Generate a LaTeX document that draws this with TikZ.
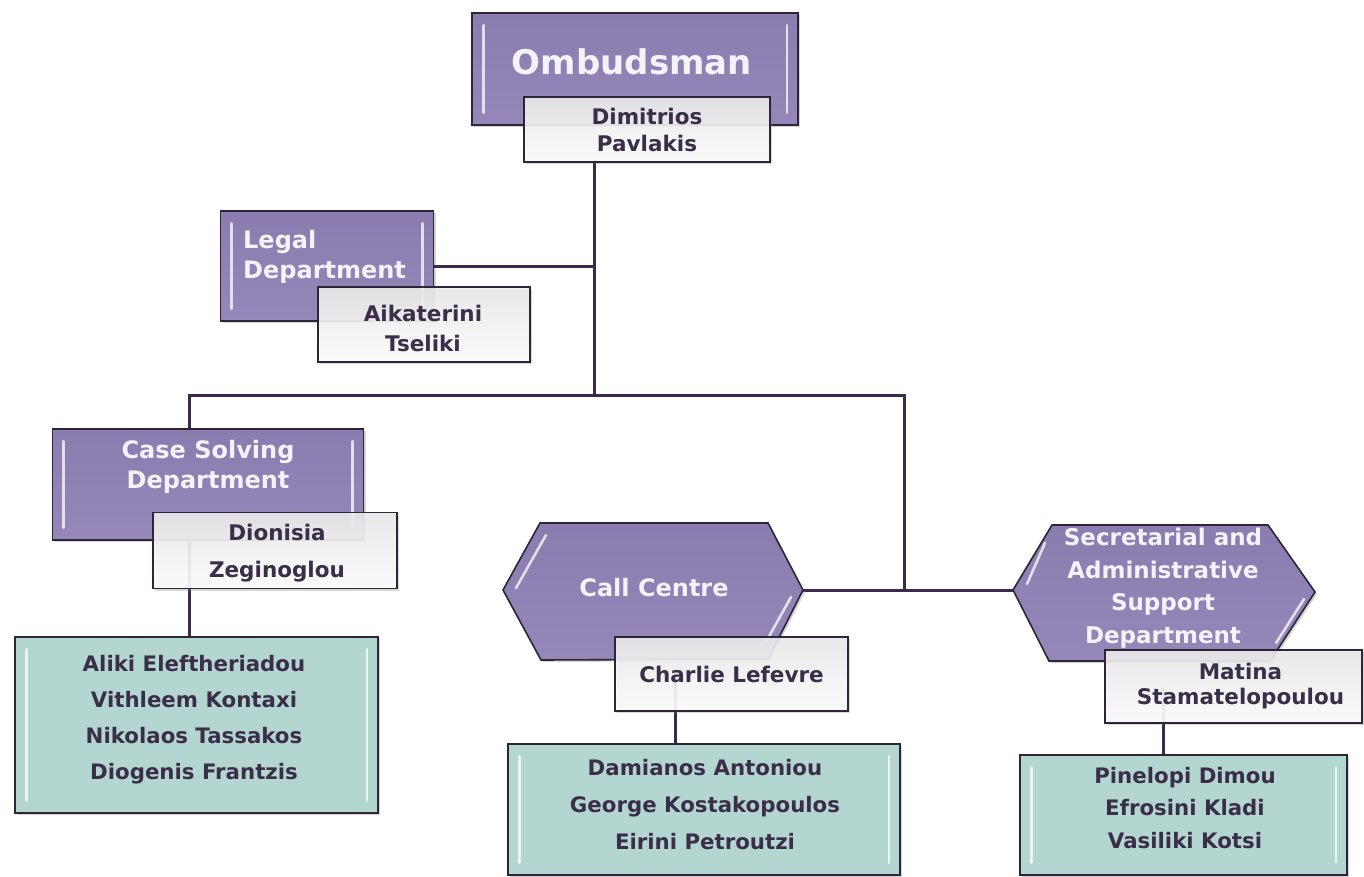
\documentclass[tikz,border=0pt]{standalone}
\usepackage{fontspec}
\setmainfont{DejaVu Sans}
\usetikzlibrary{shadows,calc}
\definecolor{purp}{HTML}{8A7CAE}
\definecolor{purpl}{HTML}{9587B8}
\definecolor{edge}{HTML}{2E2638}
\definecolor{conncol}{HTML}{3A2B4C}
\definecolor{nametext}{HTML}{3B2E48}
\definecolor{greenf}{HTML}{B4D6D1}
\definecolor{hitext}{HTML}{F6F2FB}
\newcommand\bevelbars[1]{%
  \draw[white,line width=2.6pt,opacity=0.75,line cap=round]
    ([xshift=12pt,yshift=-13pt]#1.north west) -- ([xshift=12pt,yshift=13pt]#1.south west);
  \draw[white,line width=2.6pt,opacity=0.75,line cap=round]
    ([xshift=-12pt,yshift=-13pt]#1.north east) -- ([xshift=-12pt,yshift=13pt]#1.south east);}
\begin{document}
\begin{tikzpicture}[x=1pt,y=-1pt,
  conn/.style={draw=conncol,line width=3pt},
  deptbox/.style={draw=edge,line width=1.6pt,top color=purp,bottom color=purpl,inner sep=0pt,
     drop shadow={shadow xshift=2pt,shadow yshift=-2pt,opacity=0.35}},
  hexbox/.style={draw=edge,line width=1.6pt,top color=purp,bottom color=purpl,
     drop shadow={shadow xshift=2pt,shadow yshift=-2pt,opacity=0.35}},
  depttext/.style={text=hitext,font=\bfseries\fontsize{24}{30}\selectfont,inner sep=0pt},
  namebox/.style={draw=edge,line width=1.3pt,top color=black!8,bottom color=white,fill opacity=0.9,
     text opacity=1,text=nametext,font=\bfseries\fontsize{21.5}{28}\selectfont,align=center,inner sep=0pt,
     drop shadow={shadow xshift=2pt,shadow yshift=-2pt,opacity=0.3}},
  nametext/.style={text=nametext,font=\bfseries\fontsize{21.5}{28}\selectfont,align=center,inner sep=0pt},
  staffbox/.style={draw=edge,line width=1.6pt,fill=greenf,inner sep=0pt,
     drop shadow={shadow xshift=2pt,shadow yshift=-2pt,opacity=0.35}},
  stafftext/.style={text=nametext,font=\bfseries\fontsize{21.3}{36}\selectfont,align=center,inner sep=0pt}]
\useasboundingbox (0,0) rectangle (1364,877);

% junction coordinates
\coordinate (topj) at (594,160);
\coordinate (bL) at (189,395);
\coordinate (bM) at (594,395);
\coordinate (bR) at (904,395);
\coordinate (cj) at (904,590);

% hexagon tips
\coordinate (ccW) at (503,590);
\coordinate (ccE) at (803,590);
\coordinate (secW) at (1013,590);
\coordinate (secE) at (1315,592);

% department boxes
\node[deptbox,minimum width=326pt,minimum height=112pt] (omb) at (635,69) {};
\node[deptbox,minimum width=213pt,minimum height=110pt] (legal) at (327,266) {};
\node[deptbox,minimum width=311pt,minimum height=111pt] (cs) at (208,484.5) {};

% connectors
\draw[conn] (topj) -- (bM);
\draw[conn] (legal.east) -- (legal.east -| bM);
\draw[conn] ([xshift=-1.5pt]bL) -- ([xshift=1.5pt]bR);
\draw[conn] (bL) -- (bL |- cs.north);
\draw[conn] (bR) -- (cj);
\draw[conn] (ccE) -- (secW);

% hexagons
\path[hexbox] (ccW) -- (540,523) -- (768,523) -- (ccE) -- (768,659) -- (541,660) -- cycle;
\path[hexbox] (secW) -- (1052,525) -- (1268,525) -- (secE) -- (1270,661) -- (1049,661) -- cycle;
\draw[white,line width=2.6pt,opacity=0.75,line cap=round] (516,588) -- (546,535);
\draw[white,line width=2.6pt,opacity=0.75,line cap=round] (791,597) -- (767,640);
\draw[white,line width=2.6pt,opacity=0.75,line cap=round] (1027,584) -- (1045,543);
\draw[white,line width=2.6pt,opacity=0.75,line cap=round] (1304,599) -- (1276,643);

\bevelbars{omb}
\bevelbars{legal}
\bevelbars{cs}

% staff boxes
\node[staffbox,minimum width=363pt,minimum height=176pt] (g1) at (196.5,725) {};
\node[staffbox,minimum width=392pt,minimum height=131pt] (g2) at (704,809.5) {};
\node[staffbox,minimum width=327pt,minimum height=120pt] (g3) at (1183.5,815) {};
\bevelbars{g1}
\bevelbars{g2}
\bevelbars{g3}
\node[stafftext] (g1t) at (194,720) {Aliki Eleftheriadou\\Vithleem Kontaxi\\Nikolaos Tassakos\\Diogenis Frantzis};
\node[stafftext,font=\bfseries\fontsize{21.3}{37}\selectfont] (g2t) at (705,805) {Damianos Antoniou\\George Kostakopoulos\\Eirini Petroutzi};
\node[stafftext,font=\bfseries\fontsize{21.3}{32.5}\selectfont] (g3t) at (1185,808) {Pinelopi Dimou\\Efrosini Kladi\\Vasiliki Kotsi};
\draw[conn] (g1.north -| bL) -- (cs.south -| bL);

% dept texts
\node[depttext,font=\bfseries\fontsize{34}{40}\selectfont] (ombt) at (632,62) {Ombudsman};
\node[depttext,align=left,anchor=north west] (legalt) at (243,230) {Legal\\Department};
\node[depttext,align=center,anchor=north] (cst) at (208,440) {Case Solving\\Department};
\node[depttext] (cct) at (654,588) {Call Centre};
\node[depttext,align=center,font=\bfseries\fontsize{23}{32.5}\selectfont] (sect) at (1163,588) {Secretarial and\\Administrative\\Support\\Department};

% name boxes (connectors pass behind them)
\coordinate (chlc) at (731.5,674);
\coordinate (matc) at (1233.5,686.5);
\draw[conn] ([xshift=-56.5pt]chlc) -- ([xshift=-56.5pt]chlc |- g2.north);
\draw[conn] ([xshift=-70.5pt]matc) -- ([xshift=-70.5pt]matc |- g3.north);
\node[namebox,minimum width=246pt,minimum height=65pt,font=\bfseries\fontsize{21.5}{27}\selectfont] (dim) at (647,129.5) {Dimitrios\\Pavlakis};
\node[namebox,minimum width=212pt,minimum height=75pt] (ait) at (424,324.5) {};
\node[nametext,font=\bfseries\fontsize{21.5}{30}\selectfont] (aitt) at (423,328) {Aikaterini\\Tseliki};
\node[namebox,minimum width=244pt,minimum height=76pt] (dion) at (275,550.5) {};
\node[nametext,font=\bfseries\fontsize{21.5}{37}\selectfont] (diont) at (277,553.5) {Dionisia\\Zeginoglou};
\node[namebox,minimum width=233pt,minimum height=74pt] (chl) at (chlc) {Charlie Lefevre};
\node[namebox,minimum width=257pt,minimum height=73pt,font=\bfseries\fontsize{21.5}{25}\selectfont] (mat) at (matc) {\hspace*{14pt}Matina\\\hspace*{14pt}Stamatelopoulou};
\end{tikzpicture}
\end{document}
